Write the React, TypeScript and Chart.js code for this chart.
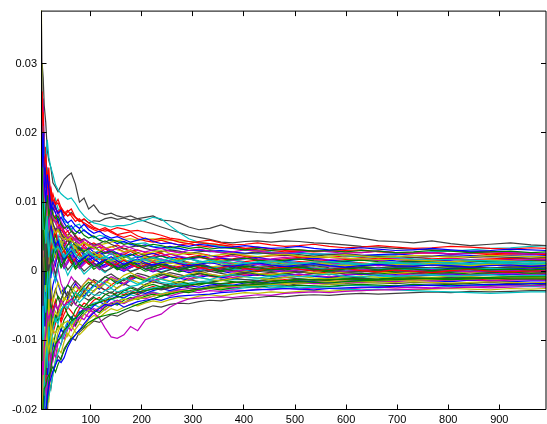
import React, { useEffect, useRef } from "react";
import { Chart, registerables } from "chart.js";

Chart.register(...registerables);

const X_STEPS = [
  1, 2, 3, 5, 7, 9, 12, 15, 18, 22,
  26, 31, 36, 42, 48, 55, 62, 70, 78, 87,
  96, 106, 117, 128, 140, 152, 165, 178, 192, 207,
  222, 238, 255, 273, 292, 312, 333, 355, 378, 402,
  427, 453, 480, 508, 537, 567, 598, 630, 663, 697,
  732, 768, 805, 843, 882, 922, 962, 992,
];
const X_TICKS = [100, 200, 300, 400, 500, 600, 700, 800, 900];
const Y_TICKS = [-0.02, -0.01, 0, 0.01, 0.02, 0.03];

// series values, in units of 1e-4
const blackTop = [380, 200, 260, 300, 280, 240, 215, 175, 160, 150, 128, 122, 115, 124, 133, 138, 142, 126, 100, 106, 90, 96, 85, 82, 84, 80, 78, 80, 76, 78, 80, 74, 73, 70, 64, 60, 62, 67, 61, 58, 56, 55, 58, 61, 63, 56, 52, 48, 44, 43, 41, 44, 40, 37, 39, 41, 38, 37];
const blackSecond = [-150, -40, 60, 130, 100, 90, 140, 115, 100, 95, 88, 95, 82, 90, 85, 80, 85, 78, 72, 75, 70, 73, 72, 76, 78, 75, 77, 74, 76, 72, 68, 64, 60, 56, 52, 49, 46, 42, 41, 43, 44, 42, 44, 43, 41, 40, 38, 36, 35, 33, 32, 31, 30, 28, 29, 27, 26, 25];
const magentaLow = [-60, -300, -230, -130, -150, -110, -90, -60, -70, -55, -65, -48, -55, -42, -50, -45, -40, -48, -52, -55, -54, -60, -68, -82, -95, -97, -92, -80, -86, -70, -66, -62, -52, -45, -40, -39, -38, -37, -38, -36, -34, -35, -32, -31, -30, -31, -29, -28, -27, -27, -26, -25, -24, -23, -22, -21, -21, -20];
const cyanHigh = [200, 420, 350, 180, 210, 170, 160, 190, 165, 150, 140, 125, 118, 112, 108, 104, 106, 98, 88, 80, 74, 70, 68, 66, 64, 66, 66, 68, 72, 74, 78, 76, 66, 56, 47, 42, 38, 36, 34, 31, 30, 28, 27, 26, 25, 24, 22, 21, 20, 20, 18, 17, 17, 16, 15, 14, 14, 13];
const cyanTopEnd = [-300, -200, -120, 40, 100, 120, 80, 150, 130, 110, 95, 105, 90, 85, 72, 70, 60, 66, 68, 58, 55, 48, 52, 50, 45, 44, 42, 38, 40, 41, 36, 35, 32, 33, 30, 31, 28, 29, 27, 26, 25, 27, 26, 27, 24, 25, 23, 22, 23, 24, 27, 28, 29, 31, 33, 34, 36, 37];
const cyanLowEnd = [100, -100, -200, -150, -60, -90, -110, -90, -70, -80, -60, -72, -66, -55, -50, -48, -44, -40, -45, -38, -30, -34, -35, -28, -25, -30, -27, -22, -20, -15, -12, -16, -18, -20, -19, -15, -17, -18, -20, -22, -21, -20, -22, -24, -23, -25, -26, -27, -26, -27, -28, -29, -30, -31, -32, -31, -30, -30];
const redHigh = [-100, 100, 250, 200, 160, 120, 110, 140, 125, 115, 100, 90, 85, 92, 86, 80, 83, 78, 74, 70, 66, 62, 60, 58, 60, 63, 61, 58, 59, 56, 55, 52, 48, 46, 43, 41, 40, 38, 36, 33, 31, 30, 28, 29, 28, 29, 30, 31, 28, 27, 26, 27, 25, 26, 26, 25, 25, 24];
const yellowHigh = [150, 350, 280, 100, 60, 90, 120, 95, 80, 70, 85, 70, 60, 55, 50, 45, 50, 44, 38, 42, 36, 35, 38, 40, 42, 44, 46, 47, 45, 46, 47, 46, 45, 44, 43, 42, 40, 38, 35, 31, 28, 25, 24, 22, 21, 20, 19, 18, 17, 17, 16, 15, 14, 15, 16, 15, 14, 14];
const greenLow = [-400, -250, -300, -230, -190, -170, -165, -155, -150, -145, -138, -146, -135, -125, -115, -105, -98, -92, -85, -80, -74, -70, -66, -64, -62, -60, -56, -52, -48, -44, -40, -36, -33, -30, -28, -26, -24, -22, -21, -20, -19, -18, -16, -15, -16, -17, -15, -14, -13, -12, -11, -10, -11, -10, -9, -8, -8, -8];
const cyanLow = [-600, -500, -450, -350, -300, -250, -200, -190, -180, -168, -150, -130, -118, -105, -92, -82, -75, -68, -62, -56, -50, -46, -44, -40, -36, -34, -31, -29, -27, -26, -24, -22, -20, -18, -17, -15, -14, -13, -12, -12, -11, -10, -9, -8, -8, -9, -10, -9, -8, -7, -7, -6, -6, -5, -5, -5, -5, -5];
const yellowLow = [300, 100, -100, -200, -150, -130, -110, -100, -115, -95, -85, -90, -82, -80, -75, -72, -78, -88, -92, -85, -78, -70, -62, -55, -50, -46, -45, -42, -40, -38, -36, -33, -31, -29, -28, -26, -25, -23, -22, -21, -20, -19, -18, -17, -16, -15, -14, -15, -14, -13, -13, -12, -12, -11, -10, -10, -10, -10];
const blueLow = [-500, -350, -300, -350, -260, -230, -210, -180, -165, -155, -145, -135, -128, -132, -125, -110, -100, -92, -85, -76, -68, -60, -54, -48, -50, -46, -52, -48, -44, -42, -40, -42, -38, -36, -35, -34, -33, -31, -30, -28, -27, -26, -25, -26, -27, -25, -24, -23, -23, -22, -21, -20, -21, -20, -19, -19, -18, -18];
const greenDeep = [-700, -550, -400, -320, -280, -240, -200, -190, -160, -140, -120, -105, -100, -95, -85, -80, -72, -68, -62, -55, -50, -48, -45, -42, -40, -38, -35, -32, -30, -28, -26, -24, -22, -22, -20, -18, -17, -18, -16, -15, -17, -15, -14, -12, -13, -12, -11, -12, -11, -10, -10, -11, -12, -11, -10, -11, -11, -11];

const red33 = [250, 120, 180, 260, 200, 150, 170, 130, 110, 120, 104, 96, 99, 88, 80, 86, 90, 78, 72, 76, 70, 64, 60, 63, 58, 53, 55, 57, 51, 47, 45, 48, 46, 42, 40, 43, 45, 41, 38, 39, 41, 38, 36, 37, 39, 36, 34, 35, 37, 35, 33, 34, 36, 35, 33, 32, 34, 33];
const blue30 = [-200, 100, 250, 150, 200, 130, 100, 140, 120, 90, 100, 92, 84, 88, 76, 70, 74, 66, 62, 68, 60, 55, 58, 52, 48, 50, 46, 42, 45, 48, 43, 40, 41, 38, 36, 39, 37, 34, 35, 37, 35, 33, 34, 36, 33, 31, 32, 34, 32, 30, 31, 33, 31, 29, 30, 32, 31, 30];
const green28 = [500, 300, 200, 150, 100, 60, 90, 110, 80, 95, 82, 76, 80, 68, 62, 66, 58, 54, 60, 52, 48, 51, 45, 42, 46, 43, 39, 41, 38, 36, 39, 37, 34, 36, 33, 35, 32, 34, 33, 31, 33, 30, 32, 31, 29, 30, 28, 30, 29, 27, 28, 30, 29, 27, 28, 29, 27, 28];
const magenta26 = [-100, 200, 300, 180, 90, 140, 80, 120, 60, 95, 78, 70, 62, 66, 55, 48, 52, 44, 40, 46, 42, 36, 39, 34, 30, 33, 37, 34, 30, 28, 31, 33, 29, 27, 30, 32, 29, 27, 28, 31, 29, 27, 26, 28, 30, 28, 26, 27, 29, 27, 26, 27, 25, 26, 28, 27, 25, 26];
const red25 = [350, 500, 300, 200, 230, 160, 180, 120, 150, 100, 112, 98, 104, 92, 84, 88, 80, 72, 76, 68, 64, 60, 57, 61, 56, 52, 49, 52, 47, 44, 42, 45, 41, 38, 40, 37, 35, 37, 34, 33, 35, 32, 30, 31, 29, 30, 28, 27, 29, 27, 26, 27, 25, 26, 24, 25, 26, 25];
const blue23 = [100, -100, 50, 150, 100, 180, 120, 90, 130, 80, 92, 85, 74, 78, 70, 62, 66, 58, 55, 60, 54, 50, 46, 49, 44, 40, 43, 39, 36, 38, 35, 33, 36, 33, 30, 31, 29, 30, 28, 26, 28, 26, 25, 27, 25, 24, 25, 23, 24, 25, 23, 22, 24, 23, 22, 23, 24, 23];
const yellow21 = [800, 600, 450, 200, 150, 80, 40, 90, 60, 75, 62, 55, 60, 50, 46, 52, 44, 40, 36, 42, 38, 34, 30, 33, 36, 31, 28, 30, 26, 25, 28, 30, 26, 24, 27, 25, 22, 24, 26, 23, 21, 23, 25, 22, 20, 22, 24, 22, 20, 21, 23, 22, 20, 21, 23, 22, 21, 21];
const black20 = [-300, -100, 100, 50, -50, 20, 60, 0, 40, 80, 68, 60, 64, 55, 48, 52, 58, 50, 44, 47, 42, 38, 40, 44, 39, 35, 32, 35, 37, 33, 30, 28, 31, 29, 26, 28, 30, 27, 24, 25, 27, 25, 23, 24, 22, 24, 25, 23, 21, 22, 20, 21, 22, 20, 21, 20, 19, 20];
const red18 = [450, 250, 150, 200, 120, 160, 100, 70, 110, 85, 72, 80, 68, 60, 54, 58, 50, 45, 48, 42, 38, 41, 36, 32, 35, 38, 33, 29, 31, 27, 25, 28, 30, 27, 24, 26, 23, 21, 24, 22, 20, 22, 23, 21, 19, 20, 22, 20, 18, 19, 20, 18, 19, 17, 18, 19, 18, 18];
const magenta17 = [0, 300, 150, 80, 200, 120, 90, 60, 100, 50, 62, 56, 48, 52, 44, 38, 42, 48, 40, 34, 31, 35, 30, 26, 28, 24, 27, 30, 26, 22, 20, 23, 25, 22, 19, 21, 18, 20, 22, 19, 17, 18, 20, 18, 16, 17, 19, 17, 16, 18, 17, 16, 18, 17, 15, 16, 17, 17];
const blue15 = [200, 0, -150, -50, 50, -20, 80, 30, 60, 10, 30, 22, 38, 44, 35, 28, 36, 42, 34, 30, 34, 28, 24, 27, 31, 26, 22, 25, 20, 23, 26, 22, 19, 21, 18, 20, 23, 19, 17, 18, 20, 17, 15, 17, 19, 16, 14, 16, 17, 15, 14, 16, 15, 13, 15, 16, 14, 15];
const green14 = [-400, -200, 0, 100, 150, 90, 120, 60, 90, 50, 40, 52, 44, 36, 30, 38, 45, 38, 32, 28, 33, 36, 30, 26, 29, 24, 20, 23, 27, 22, 19, 22, 18, 16, 19, 21, 17, 15, 17, 19, 16, 14, 16, 18, 15, 13, 15, 16, 14, 13, 15, 14, 13, 15, 14, 13, 15, 14];
const cyan12 = [300, 150, 250, 120, 60, 100, 40, 80, 20, 55, 40, 30, 36, 28, 20, 26, 32, 24, 18, 22, 27, 22, 18, 21, 16, 19, 23, 18, 15, 17, 20, 16, 13, 15, 18, 14, 12, 15, 13, 11, 13, 15, 12, 11, 13, 14, 12, 10, 12, 13, 11, 13, 12, 11, 13, 12, 11, 12];
const red11 = [-250, 100, -50, 80, 130, 60, 20, 70, 100, 45, 58, 50, 62, 70, 58, 50, 44, 52, 45, 38, 42, 36, 40, 34, 30, 33, 28, 31, 27, 24, 26, 22, 25, 21, 18, 20, 17, 19, 16, 14, 16, 14, 12, 14, 13, 11, 13, 12, 10, 12, 13, 11, 12, 10, 11, 12, 11, 11];
const yellow10 = [-150, -300, -100, 50, -20, 80, 120, 60, 90, 40, 55, 42, 30, 36, 45, 52, 40, 34, 26, 32, 28, 22, 25, 18, 14, 18, 22, 17, 13, 15, 18, 14, 11, 13, 10, 12, 14, 11, 9, 11, 13, 10, 8, 10, 12, 10, 8, 9, 11, 9, 10, 11, 9, 10, 9, 11, 10, 10];
const magenta9 = [400, 600, 350, 200, 250, 180, 130, 150, 100, 120, 96, 84, 88, 72, 64, 58, 62, 50, 44, 40, 36, 32, 35, 28, 24, 27, 22, 18, 21, 17, 15, 18, 14, 11, 13, 10, 12, 14, 11, 9, 11, 8, 10, 12, 9, 7, 9, 10, 8, 9, 10, 8, 9, 8, 10, 9, 8, 9];
const blue8 = [-350, -150, -250, -100, -30, -80, 20, -40, 30, -10, 20, 8, 28, 16, 4, 12, 24, 18, 8, 14, 20, 12, 6, 10, 15, 9, 4, 8, 12, 7, 10, 13, 8, 5, 9, 11, 7, 5, 8, 10, 7, 9, 6, 8, 10, 7, 6, 8, 9, 7, 8, 9, 7, 8, 9, 7, 8, 8];
const black6 = [100, 300, 150, 250, 120, 80, 150, 100, 60, 90, 70, 58, 62, 48, 40, 45, 36, 30, 34, 26, 22, 25, 18, 14, 17, 12, 8, 11, 15, 10, 7, 10, 6, 4, 7, 9, 5, 3, 6, 8, 5, 7, 4, 6, 8, 5, 4, 6, 5, 7, 6, 5, 7, 6, 5, 6, 7, 6];
const green5 = [250, 100, -50, 0, 80, 30, -20, 40, 0, 60, 42, 30, 38, 24, 16, 22, 12, 6, 14, 20, 14, 8, 12, 17, 10, 5, 9, 13, 8, 4, 7, 10, 6, 2, 5, 8, 4, 6, 9, 5, 3, 5, 7, 4, 6, 3, 5, 7, 5, 4, 6, 4, 5, 6, 4, 5, 6, 5];
const red4 = [550, 300, 200, 150, 220, 130, 90, 120, 70, 100, 80, 72, 60, 66, 52, 44, 48, 36, 30, 34, 26, 20, 24, 16, 12, 15, 10, 6, 9, 12, 7, 4, 7, 3, 1, 4, 6, 2, 0, 3, 5, 2, 4, 6, 3, 2, 4, 5, 3, 4, 5, 3, 4, 5, 3, 4, 5, 4];
const cyan3 = [-200, -350, -150, -50, -100, -20, -60, 10, -40, 20, 0, -15, 5, 18, 8, -6, 4, 14, 6, -4, 2, 10, 4, -2, 6, 11, 5, 0, 4, 8, 3, -1, 3, 6, 2, 0, 4, 6, 3, 1, 4, 2, 0, 3, 5, 3, 1, 3, 4, 2, 3, 4, 2, 3, 4, 3, 2, 3];
const magenta2 = [150, -50, 50, 200, 100, 140, 60, 100, 30, 70, 45, 30, 38, 20, 8, 16, 28, 18, 6, 12, 20, 12, 4, 9, 14, 8, 2, 6, 10, 4, 0, 4, 8, 3, 1, 5, 2, -1, 3, 5, 2, 0, 3, 4, 1, 2, 4, 2, 1, 3, 2, 1, 3, 2, 1, 3, 2, 2];
const blue1 = [-50, 200, 400, 250, 150, 200, 100, 140, 70, 110, 85, 70, 74, 56, 44, 50, 36, 28, 32, 22, 16, 20, 12, 6, 10, 4, 0, 5, 9, 3, -1, 3, 6, 2, -2, 1, 4, 0, -3, 0, 3, 1, -1, 2, 3, 0, -1, 1, 3, 1, 0, 2, 1, 0, 2, 1, 0, 1];
const yellow0 = [350, 150, 50, -100, -50, -150, -80, -120, -40, -90, -70, -58, -64, -48, -38, -44, -30, -22, -28, -18, -12, -16, -24, -18, -10, -14, -6, -2, -8, -12, -6, -2, -5, -9, -4, -1, -4, -7, -3, 0, -3, -5, -2, 0, -2, -4, -1, 1, -1, -3, -1, 1, 0, -2, 0, 1, -1, 0];
const blackM1 = [-450, -250, -350, -200, -100, -150, -70, -110, -40, -80, -60, -48, -56, -40, -30, -36, -22, -14, -20, -28, -20, -12, -16, -8, -4, -10, -14, -8, -3, -6, -10, -6, -2, -5, -8, -4, 0, -3, -6, -3, 0, -2, -4, -1, -3, -5, -2, 0, -2, -1, -3, -1, 0, -2, -1, 0, -2, -1];
const greenM2 = [100, 250, 150, 50, -50, 0, -80, -30, -100, -50, -62, -48, -36, -42, -28, -20, -26, -38, -30, -22, -16, -22, -14, -8, -12, -18, -12, -6, -10, -14, -8, -4, -7, -10, -6, -3, -6, -8, -4, -2, -4, -6, -3, -1, -3, -5, -2, -3, -4, -2, -1, -3, -2, -4, -2, -1, -3, -2];
const redM3 = [-100, -400, -250, -150, -200, -120, -160, -90, -130, -70, -90, -76, -62, -70, -52, -40, -46, -32, -24, -30, -20, -14, -22, -28, -20, -14, -18, -10, -6, -12, -16, -10, -7, -11, -6, -3, -7, -10, -6, -4, -6, -2, -4, -6, -3, -1, -4, -5, -2, -3, -4, -2, -3, -5, -3, -2, -4, -3];
const magentaM4 = [200, 0, 100, -80, -30, 40, -60, 10, -40, 30, 10, -5, 4, -18, -28, -20, -8, -16, -26, -18, -10, -16, -22, -14, -8, -12, -18, -12, -6, -10, -14, -9, -5, -8, -11, -7, -4, -7, -9, -6, -3, -5, -7, -4, -6, -8, -5, -3, -5, -6, -4, -5, -3, -5, -4, -3, -5, -4];
const blueM5 = [600, 300, 150, 200, 50, 100, -20, 60, 20, -40, -20, -6, -18, -32, -24, -40, -30, -18, -26, -36, -28, -20, -26, -16, -10, -15, -20, -13, -8, -12, -16, -11, -7, -10, -13, -9, -6, -9, -11, -7, -5, -8, -6, -4, -7, -9, -6, -4, -6, -5, -7, -5, -4, -6, -5, -4, -6, -5];
const cyanM6 = [-500, -300, -200, -250, -150, -180, -100, -140, -80, -110, -85, -70, -76, -58, -48, -54, -40, -30, -36, -24, -30, -22, -14, -18, -24, -16, -10, -14, -19, -13, -8, -12, -15, -10, -6, -9, -12, -8, -5, -8, -10, -7, -5, -8, -6, -4, -7, -8, -5, -7, -6, -5, -7, -6, -5, -7, -6, -6];
const yellowM8 = [-100, 150, 300, 100, 50, -50, 20, -30, 40, -20, -45, -30, -16, -28, -42, -35, -22, -30, -40, -32, -24, -30, -20, -14, -19, -25, -18, -12, -16, -21, -15, -11, -14, -17, -12, -9, -12, -14, -10, -8, -10, -12, -9, -7, -10, -11, -8, -7, -9, -10, -8, -9, -7, -8, -9, -7, -8, -8];
const blackM9 = [300, 450, 200, 50, 120, 0, 60, -40, 20, -60, -40, -26, -38, -50, -42, -30, -36, -48, -38, -30, -36, -28, -22, -27, -32, -24, -18, -22, -26, -19, -15, -18, -21, -16, -12, -15, -17, -13, -10, -12, -14, -11, -9, -11, -13, -10, -8, -10, -12, -9, -8, -10, -9, -8, -10, -9, -8, -9];
const greenM10 = [-250, -100, -300, -180, -200, -120, -150, -80, -120, -60, -78, -64, -72, -58, -50, -62, -70, -56, -48, -52, -44, -38, -42, -34, -30, -36, -28, -24, -28, -22, -19, -23, -18, -15, -18, -20, -16, -13, -15, -17, -14, -12, -14, -11, -12, -13, -11, -10, -12, -10, -9, -11, -10, -9, -11, -10, -9, -10];
const redM12 = [50, -150, -50, -200, -100, -150, -80, -50, -100, -30, -55, -42, -60, -74, -62, -52, -58, -66, -54, -46, -50, -42, -38, -44, -36, -30, -34, -28, -32, -26, -22, -26, -23, -19, -22, -18, -16, -19, -17, -15, -17, -14, -12, -14, -15, -13, -12, -13, -14, -12, -11, -13, -12, -11, -13, -12, -11, -12];
const magentaM13 = [-300, -500, -400, -250, -300, -200, -220, -150, -180, -120, -130, -112, -100, -106, -90, -80, -86, -74, -66, -70, -60, -54, -58, -50, -46, -42, -46, -40, -36, -34, -31, -34, -30, -27, -25, -28, -24, -22, -24, -21, -19, -21, -18, -16, -18, -17, -15, -16, -14, -15, -13, -14, -13, -12, -14, -13, -12, -13];
const blueM14 = [-150, 100, -50, -150, -250, -180, -130, -160, -100, -130, -104, -112, -96, -84, -90, -76, -66, -72, -60, -54, -58, -50, -44, -48, -40, -36, -39, -33, -30, -32, -28, -25, -28, -24, -21, -23, -20, -18, -20, -17, -15, -17, -16, -14, -15, -16, -14, -13, -15, -14, -13, -14, -15, -13, -14, -15, -14, -14];
const yellowM16 = [200, 50, -100, -200, -120, -170, -100, -140, -90, -120, -96, -104, -88, -76, -82, -94, -80, -70, -74, -62, -56, -60, -52, -46, -50, -44, -40, -43, -38, -34, -31, -34, -30, -27, -29, -26, -23, -25, -22, -20, -19, -21, -19, -17, -18, -19, -17, -16, -17, -16, -15, -16, -17, -16, -15, -16, -17, -16];
const blackM17 = [-600, -300, -200, -120, -180, -100, -140, -70, -110, -60, -80, -70, -58, -64, -52, -44, -50, -40, -34, -38, -42, -36, -30, -33, -37, -31, -27, -30, -34, -29, -25, -27, -24, -21, -24, -26, -22, -20, -22, -19, -17, -19, -21, -18, -17, -19, -18, -16, -17, -18, -16, -17, -18, -17, -16, -18, -17, -17];
const greenM19 = [400, 200, 0, -100, -50, -150, -90, -130, -60, -100, -112, -90, -78, -86, -70, -62, -68, -78, -66, -58, -52, -56, -60, -52, -46, -49, -42, -38, -41, -36, -33, -36, -32, -29, -31, -27, -25, -27, -24, -22, -23, -21, -22, -20, -21, -22, -20, -19, -20, -21, -19, -20, -19, -18, -20, -19, -20, -19];
const cyanM21 = [0, -200, -300, -150, -230, -170, -200, -130, -160, -110, -126, -108, -92, -98, -84, -72, -78, -66, -58, -62, -54, -48, -52, -45, -40, -44, -38, -34, -37, -33, -30, -33, -29, -26, -28, -25, -23, -25, -26, -24, -22, -24, -23, -21, -22, -23, -21, -20, -22, -21, -20, -21, -22, -21, -20, -21, -22, -21];
const magentaM23 = [-150, 0, -200, -300, -200, -250, -160, -190, -130, -150, -118, -124, -104, -92, -98, -84, -74, -80, -68, -62, -66, -58, -52, -56, -48, -44, -47, -42, -38, -40, -36, -33, -36, -32, -29, -31, -28, -29, -27, -28, -26, -27, -25, -26, -24, -25, -26, -24, -23, -24, -23, -24, -22, -23, -24, -23, -22, -23];
const yellowM25 = [-450, -600, -350, -250, -280, -200, -230, -170, -190, -140, -150, -128, -112, -118, -102, -90, -96, -84, -76, -80, -70, -64, -67, -60, -54, -57, -52, -48, -50, -46, -43, -45, -41, -38, -40, -36, -34, -36, -33, -31, -32, -30, -31, -29, -28, -29, -27, -28, -27, -26, -27, -26, -25, -26, -27, -25, -26, -25];
const blackM28 = [-200, -350, -450, -300, -220, -260, -190, -210, -160, -170, -146, -136, -122, -128, -112, -104, -96, -100, -88, -82, -78, -72, -74, -68, -63, -65, -60, -56, -58, -54, -50, -52, -48, -46, -47, -44, -42, -43, -40, -39, -38, -36, -37, -35, -34, -35, -33, -32, -33, -32, -31, -30, -31, -29, -30, -29, -28, -28];

// lines running through the middle of the band
const blueMidA = [300, -200, 100, 250, 80, 150, 60, 100, 40, 70, 50, 36, 44, 28, 18, 24, 30, 20, 14, 19, 24, 17, 12, 16, 21, 15, 10, 14, 18, 12, 9, 12, 15, 11, 8, 10, 13, 9, 7, 10, 12, 9, 7, 9, 11, 8, 6, 8, 10, 8, 7, 9, 8, 6, 8, 9, 7, 8];
const redMidA = [-300, 150, -100, 50, 150, 90, 40, 80, 60, 30, 45, 60, 38, 24, 30, 20, 12, 18, 26, 16, 10, 14, 20, 13, 7, 11, 16, 10, 5, 9, 13, 8, 4, 7, 10, 6, 2, 5, 8, 4, 1, 4, 6, 3, 0, 2, 4, 1, -1, 2, 0, -2, 1, 3, 0, -1, 1, 0];
const greenMidA = [200, 400, 250, 100, 30, 80, -20, 20, 50, 10, 25, 40, 22, 8, 15, 28, 18, 6, 12, 20, 14, 6, 10, 16, 11, 4, 8, 13, 9, 3, 6, 10, 7, 2, 5, 9, 6, 1, 4, 7, 5, 2, 4, 6, 3, 1, 3, 5, 2, 4, 3, 1, 3, 4, 2, 3, 2, 3];
const cyanMidA = [-100, -300, 0, 150, 60, 110, 50, 20, 70, 40, 20, 35, 50, 32, 22, 30, 40, 26, 18, 24, 30, 22, 16, 20, 26, 18, 13, 17, 22, 16, 12, 15, 19, 14, 10, 13, 16, 12, 9, 11, 14, 11, 9, 12, 10, 8, 11, 9, 10, 12, 10, 9, 11, 10, 12, 11, 10, 11];
const magentaMidA = [400, 100, 200, 50, 100, 20, 60, 0, 40, 20, 0, 15, 30, 18, 5, 12, 22, 14, 4, 10, 16, 10, 2, 7, 13, 8, 1, 5, 10, 4, 0, 4, 8, 3, 0, 3, 6, 2, -1, 2, 5, 2, 0, 2, 4, 1, 0, 2, 3, 1, 0, 2, 1, -1, 1, 2, 0, 1];
const yellowMidA = [-500, -200, -50, 100, 30, 0, 70, 30, 10, 50, 35, 20, 32, 45, 30, 22, 28, 35, 24, 16, 22, 28, 20, 14, 18, 24, 17, 12, 16, 21, 15, 11, 14, 18, 13, 10, 13, 16, 12, 9, 12, 14, 11, 9, 12, 10, 8, 10, 12, 10, 9, 11, 10, 8, 10, 11, 9, 10];
const blackMidA = [150, 350, 100, 0, 80, 40, -10, 30, 0, 25, 10, -5, 12, 24, 12, 2, 8, 16, 8, 0, 6, 12, 6, 0, 4, 10, 5, -1, 3, 8, 3, -2, 2, 6, 2, -1, 2, 5, 1, -2, 1, 4, 1, -1, 2, 3, 0, -1, 1, 2, 0, -1, 1, 0, -1, 1, 0, 0];
const blueMidB = [-250, -400, -150, 0, -60, 30, -20, 50, 10, 35, 20, 38, 26, 14, 22, 32, 20, 10, 16, 24, 16, 8, 12, 18, 12, 6, 10, 15, 9, 4, 7, 11, 8, 3, 6, 9, 6, 2, 5, 8, 5, 2, 4, 7, 4, 2, 4, 6, 3, 5, 4, 2, 4, 5, 3, 4, 3, 4];
const redMidB = [600, 300, 150, 250, 100, 60, 110, 70, 40, 60, 42, 55, 40, 30, 36, 46, 34, 26, 30, 38, 30, 24, 27, 33, 26, 21, 24, 29, 23, 19, 22, 26, 21, 18, 20, 23, 19, 16, 18, 21, 18, 16, 18, 20, 17, 15, 17, 18, 16, 17, 15, 16, 17, 15, 16, 17, 15, 16];
const greenMidB = [-150, 0, -250, -100, 50, -30, 10, -40, 20, 0, 15, 30, 18, 5, 12, 24, 14, 3, 9, 18, 11, 3, 8, 14, 9, 2, 6, 11, 6, 0, 3, 7, 4, -1, 2, 6, 3, -1, 2, 5, 2, 0, 2, 4, 1, -1, 1, 3, 1, -1, 0, 1, -1, 0, 1, -1, 0, 0];
const cyanMidB = [350, 500, 200, 100, 150, 70, 100, 45, 75, 50, 60, 42, 52, 36, 44, 32, 24, 30, 36, 26, 20, 26, 30, 22, 17, 21, 25, 19, 15, 18, 22, 17, 14, 16, 19, 15, 12, 14, 17, 13, 11, 13, 15, 12, 10, 12, 13, 11, 9, 11, 12, 10, 11, 12, 10, 11, 12, 11];
const magentaMidB = [-400, -150, 0, -100, 20, 60, 10, 50, 20, 40, 55, 40, 28, 34, 42, 30, 22, 28, 34, 25, 19, 24, 28, 21, 17, 20, 24, 18, 14, 17, 20, 16, 13, 15, 18, 14, 11, 13, 16, 12, 10, 12, 14, 11, 9, 11, 12, 10, 8, 10, 11, 9, 10, 11, 9, 10, 11, 10];
const yellowMidB = [100, -200, -300, -50, -100, 30, -30, 20, -10, 25, 40, 28, 18, 24, 32, 22, 14, 20, 26, 18, 12, 16, 22, 15, 10, 14, 18, 12, 8, 12, 15, 10, 7, 10, 13, 9, 6, 8, 11, 8, 6, 8, 10, 7, 5, 7, 9, 6, 5, 7, 6, 5, 7, 6, 5, 6, 7, 6];
const blackMidB = [-350, 0, 200, 100, 30, 90, 40, 70, 20, 45, 30, 18, 26, 38, 28, 20, 26, 32, 22, 14, 20, 26, 19, 13, 17, 22, 16, 11, 14, 19, 14, 10, 13, 16, 12, 9, 12, 14, 10, 8, 11, 13, 10, 8, 10, 12, 9, 8, 10, 11, 9, 10, 11, 9, 10, 11, 10, 10];

const COLORS: Record<string, string> = {
  b: "#0000ff",
  g: "#008000",
  r: "#ff0000",
  c: "#00bfbf",
  m: "#bf00bf",
  y: "#bfbf00",
  k: "#404040",
};

// drawing order (later ones on top), with MATLAB colour letters
const SERIES: [number[], string][] = [
  [blue30, "b"], [green28, "g"], [red33, "r"], [cyan12, "c"], [magenta26, "m"], [yellow21, "y"], [black20, "k"],
  [blueLow, "b"], [greenLow, "g"], [redHigh, "r"], [cyanHigh, "c"], [magentaLow, "m"], [yellowHigh, "y"], [blackTop, "k"],
  [blueMidA, "b"], [greenMidA, "g"], [redMidA, "r"], [cyanMidA, "c"], [magentaMidA, "m"], [yellowMidA, "y"], [blackMidA, "k"],
  [blue23, "b"], [green14, "g"], [red25, "r"], [cyan3, "c"], [magenta17, "m"], [yellow10, "y"], [black6, "k"],
  [blue15, "b"], [greenDeep, "g"], [red18, "r"], [cyanTopEnd, "c"], [magenta9, "m"], [yellowLow, "y"], [blackSecond, "k"],
  [blueMidB, "b"], [greenMidB, "g"], [redMidB, "r"], [cyanMidB, "c"], [magentaMidB, "m"], [yellowMidB, "y"], [blackMidB, "k"],
  [blue8, "b"], [green5, "g"], [red11, "r"], [cyanM6, "c"], [magenta2, "m"], [yellow0, "y"], [blackM1, "k"],
  [blue1, "b"], [greenM2, "g"], [red4, "r"], [cyanLowEnd, "c"], [magentaM4, "m"], [yellowM8, "y"], [blackM9, "k"],
  [blueM5, "b"], [greenM10, "g"], [redM3, "r"], [cyanLow, "c"], [magentaM13, "m"], [yellowM16, "y"], [blackM17, "k"],
  [blueM14, "b"], [greenM19, "g"], [redM12, "r"], [cyanM21, "c"], [magentaM23, "m"], [yellowM25, "y"], [blackM28, "k"],
];

const boxPlugin = {
  id: "matlabBox",
  afterDraw(chart: any) {
    const { ctx, chartArea: a, scales } = chart;
    const L = a.left + 0.5;
    const T = a.top + 0.5;
    const R = a.right - 0.5;
    const B = a.bottom;
    const len = 5;
    ctx.save();
    ctx.strokeStyle = "#000000";
    ctx.lineWidth = 1;
    ctx.beginPath();
    ctx.moveTo(L, T);
    ctx.lineTo(R, T);
    ctx.lineTo(R, B);
    ctx.lineTo(L, B);
    ctx.closePath();
    for (const v of X_TICKS) {
      const px = Math.floor(scales.x.getPixelForValue(v)) + 0.5;
      ctx.moveTo(px, B);
      ctx.lineTo(px, B - len);
      ctx.moveTo(px, T);
      ctx.lineTo(px, T + len);
    }
    for (const v of Y_TICKS) {
      const py = Math.floor(scales.y.getPixelForValue(v)) + 0.5;
      ctx.moveTo(L, py);
      ctx.lineTo(L + len, py);
      ctx.moveTo(R, py);
      ctx.lineTo(R - len, py);
    }
    ctx.stroke();
    ctx.restore();
  },
};

export default function App() {
  const ref = useRef<HTMLCanvasElement | null>(null);

  useEffect(() => {
    if (!ref.current) return;
    const datasets = SERIES.map(([vals, c]) => ({
      data: X_STEPS.map((x, i) => ({ x, y: vals[i] / 10000 })),
      borderColor: COLORS[c],
      backgroundColor: COLORS[c],
      borderWidth: 1.2,
      pointRadius: 0,
      tension: 0,
      fill: false,
    }));
    const font = { family: "'Liberation Sans', Arial, Helvetica, sans-serif", size: 11 };
    const chart = new Chart(ref.current, {
      type: "line",
      data: { datasets },
      options: {
        animation: false,
        responsive: false,
        devicePixelRatio: 1,
        layout: { padding: { left: 0, top: 9, right: 0.5, bottom: 0.5 } },
        plugins: { legend: { display: false }, tooltip: { enabled: false } },
        scales: {
          x: {
            type: "linear",
            min: 2.7,
            max: 992.4,
            grid: { display: false, drawTicks: false },
            border: { display: false },
            afterBuildTicks: (axis: any) => {
              axis.ticks = X_TICKS.map((value) => ({ value }));
            },
            afterFit: (axis: any) => {
              axis.height = 14;
            },
            ticks: {
              autoSkip: false,
              maxRotation: 0,
              padding: 4,
              color: "#000000",
              font,
              callback: (v: any) => String(v),
            },
          },
          y: {
            type: "linear",
            min: -0.02,
            max: 0.0377,
            grid: { display: false, drawTicks: false },
            border: { display: false },
            afterBuildTicks: (axis: any) => {
              axis.ticks = Y_TICKS.map((value) => ({ value }));
            },
            afterFit: (axis: any) => {
              axis.width = 41;
            },
            ticks: {
              autoSkip: false,
              padding: 4,
              color: "#000000",
              font,
              callback: (v: any) => String(Number(Number(v).toFixed(2))),
            },
          },
        },
      },
      plugins: [boxPlugin],
    });
    return () => chart.destroy();
  }, []);

  return (
    <div style={{ position: "absolute", left: 0, top: 0, width: 547, height: 424, background: "#ffffff" }}>
      <canvas ref={ref} width={547} height={424} style={{ display: "block" }} />
    </div>
  );
}
